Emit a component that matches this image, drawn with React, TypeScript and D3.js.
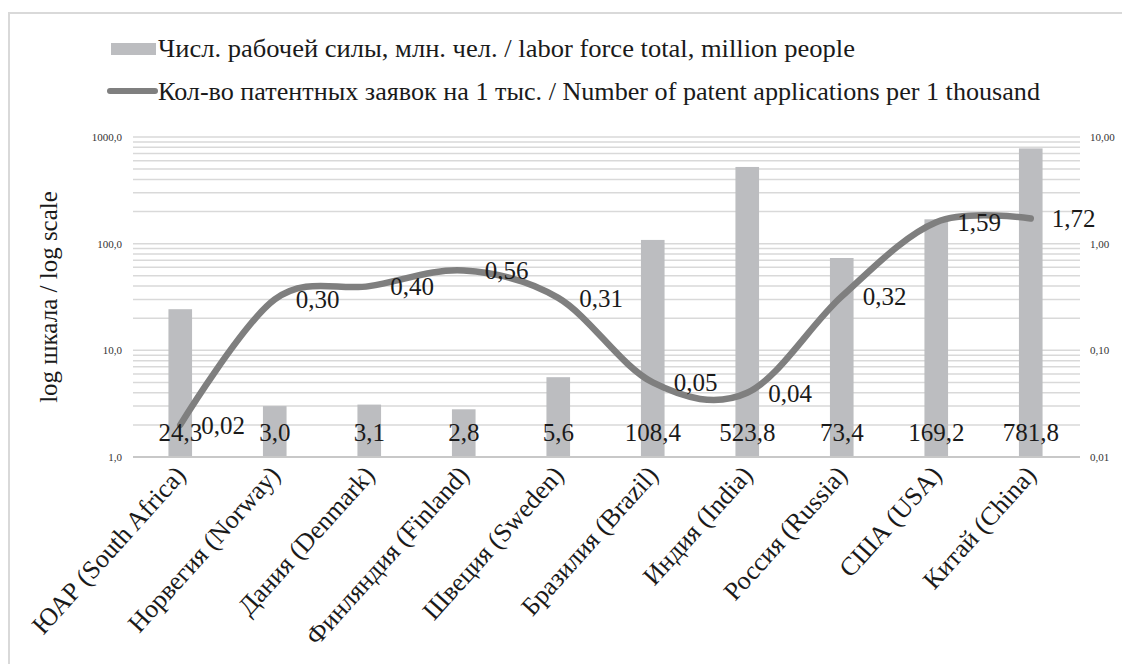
import React from "react"
import * as d3 from "d3"

// countries along x
const countries = [
  "ЮАР (South Africa)",
  "Норвегия (Norway)",
  "Дания (Denmark)",
  "Финляндия (Finland)",
  "Швеция (Sweden)",
  "Бразилия (Brazil)",
  "Индия (India)",
  "Россия (Russia)",
  "США (USA)",
  "Китай (China)",
]
// labor force, million people
const laborForce = [24.3, 3.0, 3.1, 2.8, 5.6, 108.4, 523.8, 73.4, 169.2, 781.8]
// patent applications per 1 thousand
const patents = [0.02, 0.3, 0.4, 0.56, 0.31, 0.05, 0.04, 0.32, 1.59, 1.72]
// labelled ticks
const leftTicks = [1, 10, 100, 1000]
const rightTicks = [0.01, 0.1, 1, 10]

const legendBars = "Числ. рабочей силы, млн. чел. / labor force total, million people"
const legendLine = "Кол-во патентных заявок на 1 тыс. / Number of patent applications per 1 thousand"
const yTitle = "log шкала / log scale"

const FONT = "Liberation Serif"
const INK = "#1a1a1a"

const W = 1122, H = 664
const left = 133, right = 1078, top = 137, bottom = 457

const ru = d3.formatLocale({ decimal: ",", thousands: "", grouping: [3], currency: ["", ""] })
const f1 = ru.format(".1f"), f2 = ru.format(".2f")

const x = d3.scaleBand().domain(countries).range([left, right]).paddingInner(0.75).paddingOuter(0.375)
const yL = d3.scaleLog().domain([1, 1000]).range([bottom, top])
const yR = d3.scaleLog().domain([0.01, 10]).range([bottom, top])
const cx = (c) => x(c) + x.bandwidth() / 2

const line = d3.line()
  .x((d, i) => cx(countries[i]))
  .y(d => yR(d))
  .curve(d3.curveCardinal.tension(0))

export default function App() {
  return (
    <svg width={W} height={H} fontFamily={FONT} style={{ position: "absolute", left: 0, top: 0, display: "block" }}>
      {/* frame */}
      <rect x={9} y={13} width={W} height={H} fill="none" stroke="#d9d9d9" strokeWidth={2} />

      {/* legend */}
      <g fontSize={25} fill={INK}>
        <rect x={111} y={43} width={45} height={12} fill="#bcbdc0" />
        <text x={158} y={57} textLength={697} lengthAdjust="spacingAndGlyphs">{legendBars}</text>
        <line x1={110} x2={155} y1={91} y2={91} stroke="#7f7f7f" strokeWidth={6} strokeLinecap="round" />
        <text x={158} y={100} textLength={882} lengthAdjust="spacingAndGlyphs">{legendLine}</text>
      </g>

      {/* gridlines */}
      {yL.ticks().filter(t => t > 1).map(t => (
        <line key={t} x1={left} x2={right + 2} y1={yL(t)} y2={yL(t)} stroke="#d9d9d9" strokeWidth={1.5} />
      ))}

      {/* axis labels */}
      {leftTicks.map(t => (
        <text key={t} x={122} y={yL(t)} dy="0.35em" textAnchor="end" fontSize={11} fill="#333">{f1(t)}</text>
      ))}
      {rightTicks.map(t => (
        <text key={t} x={1090} y={yR(t)} dy="0.35em" fontSize={11} fill="#333">{f2(t)}</text>
      ))}
      <text transform={`translate(57,${(top + bottom) / 2}) rotate(-90)`} textAnchor="middle" fontSize={25} fill={INK}>{yTitle}</text>

      {/* bars */}
      {laborForce.map((v, i) => (
        <rect key={i} x={x(countries[i])} width={x.bandwidth()} y={yL(v)} height={bottom - yL(v)} fill="#bcbdc0" />
      ))}
      <line x1={left} x2={right + 2} y1={bottom} y2={bottom} stroke="#c8c8c8" strokeWidth={2} />

      {/* line */}
      <path d={line(patents)} fill="none" stroke="#7f7f7f" strokeWidth={6.5} strokeLinecap="round" />

      {/* bar labels */}
      {laborForce.map((v, i) => (
        <text key={i} x={cx(countries[i])} y={441} textAnchor="middle" fontSize={25} fill={INK}>{f1(v)}</text>
      ))}
      {/* line labels */}
      {patents.map((v, i) => (
        <text key={i} x={cx(countries[i]) + 21} y={yR(v)} dy="0.35em" fontSize={25} fill={INK}>{f2(v)}</text>
      ))}

      {/* x labels */}
      {countries.map(c => (
        <text key={c} transform={`translate(${cx(c)},${bottom + 13}) rotate(-48)`} textAnchor="end" dy="0.35em" fontSize={26} fill={INK}>{c}</text>
      ))}
    </svg>
  )
}
